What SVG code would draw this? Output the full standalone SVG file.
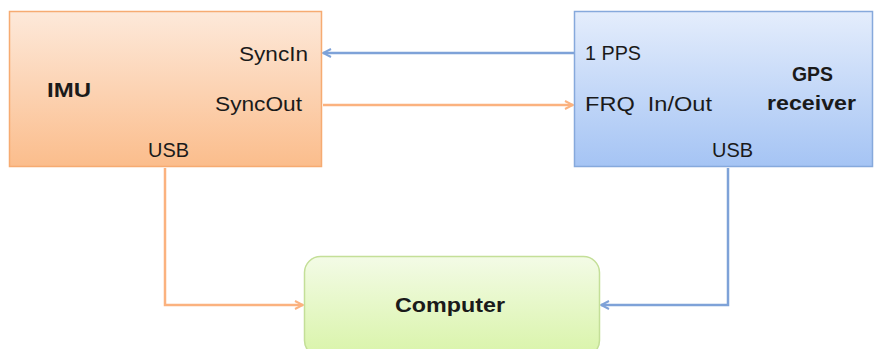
<svg xmlns="http://www.w3.org/2000/svg" width="875" height="349" viewBox="0 0 875 349">
  <style>
    .lbl { font-family: "Liberation Sans", Arial, sans-serif; font-size: 21px; fill: #1a1a1a; }
    .bold { font-weight: bold; font-size: 20px; }
    .wire { fill: none; stroke-width: 2.5; }
    .blue { stroke: #7ea2d8; }
    .orange { stroke: #fbb27f; }
  </style>
  <defs>
    <linearGradient id="gOrange" x1="0" y1="0" x2="0" y2="1">
      <stop offset="0" stop-color="#fde9da"/>
      <stop offset="1" stop-color="#fbbd8c"/>
    </linearGradient>
    <linearGradient id="gBlue" x1="0" y1="0" x2="0" y2="1">
      <stop offset="0" stop-color="#e4edfc"/>
      <stop offset="1" stop-color="#a5c4f4"/>
    </linearGradient>
    <linearGradient id="gGreen" x1="0" y1="0" x2="0" y2="1">
      <stop offset="0" stop-color="#f3fbe6"/>
      <stop offset="1" stop-color="#d9f4a9"/>
    </linearGradient>
    <marker id="arrBlue" viewBox="0 0 10 10" refX="9" refY="5" markerWidth="4" markerHeight="4" orient="auto-start-reverse" markerUnits="strokeWidth">
      <path d="M1,1 L9,5 L1,9" fill="none" stroke="#7ea2d8" stroke-width="2"/>
    </marker>
    <marker id="arrOrange" viewBox="0 0 10 10" refX="9" refY="5" markerWidth="4" markerHeight="4" orient="auto-start-reverse" markerUnits="strokeWidth">
      <path d="M1,1 L9,5 L1,9" fill="none" stroke="#fbb27f" stroke-width="2"/>
    </marker>
  </defs>

  <g id="connectors">
    <path class="wire blue" d="M574,53 H323" marker-end="url(#arrBlue)"/>
    <path class="wire orange" d="M323,105 H573" marker-end="url(#arrOrange)"/>
    <path class="wire orange" d="M165,168 V305 H303" marker-end="url(#arrOrange)"/>
    <path class="wire blue" d="M728,168 V305 H601" marker-end="url(#arrBlue)"/>
  </g>

  <g id="imu">
    <rect x="9.5" y="11.5" width="312" height="155" fill="url(#gOrange)" stroke="#f6ab72" stroke-width="1.5"/>
    <text class="lbl bold" x="47" y="97" textLength="44" lengthAdjust="spacingAndGlyphs">IMU</text>
    <text class="lbl" x="239" y="61" textLength="69" lengthAdjust="spacingAndGlyphs">SyncIn</text>
    <text class="lbl" x="215" y="111" textLength="87" lengthAdjust="spacingAndGlyphs">SyncOut</text>
    <text class="lbl" x="148" y="157" textLength="41" lengthAdjust="spacingAndGlyphs">USB</text>
  </g>

  <g id="gps">
    <rect x="574.5" y="11.5" width="298" height="155" fill="url(#gBlue)" stroke="#86a9dc" stroke-width="1.5"/>
    <text class="lbl" x="585" y="60" textLength="56" lengthAdjust="spacingAndGlyphs">1 PPS</text>
    <text class="lbl" x="585" y="111" textLength="127" lengthAdjust="spacingAndGlyphs">FRQ&#160; In/Out</text>
    <text class="lbl bold" x="792" y="81" textLength="41" lengthAdjust="spacingAndGlyphs">GPS</text>
    <text class="lbl bold" x="767" y="110" textLength="89" lengthAdjust="spacingAndGlyphs">receiver</text>
    <text class="lbl" x="712" y="157" textLength="41" lengthAdjust="spacingAndGlyphs">USB</text>
  </g>

  <g id="computer">
    <rect x="304.5" y="256.5" width="295" height="100" rx="16" ry="16" fill="url(#gGreen)" stroke="#c4df98" stroke-width="1.5"/>
    <text class="lbl bold" x="395" y="312" textLength="110" lengthAdjust="spacingAndGlyphs">Computer</text>
  </g>
</svg>
